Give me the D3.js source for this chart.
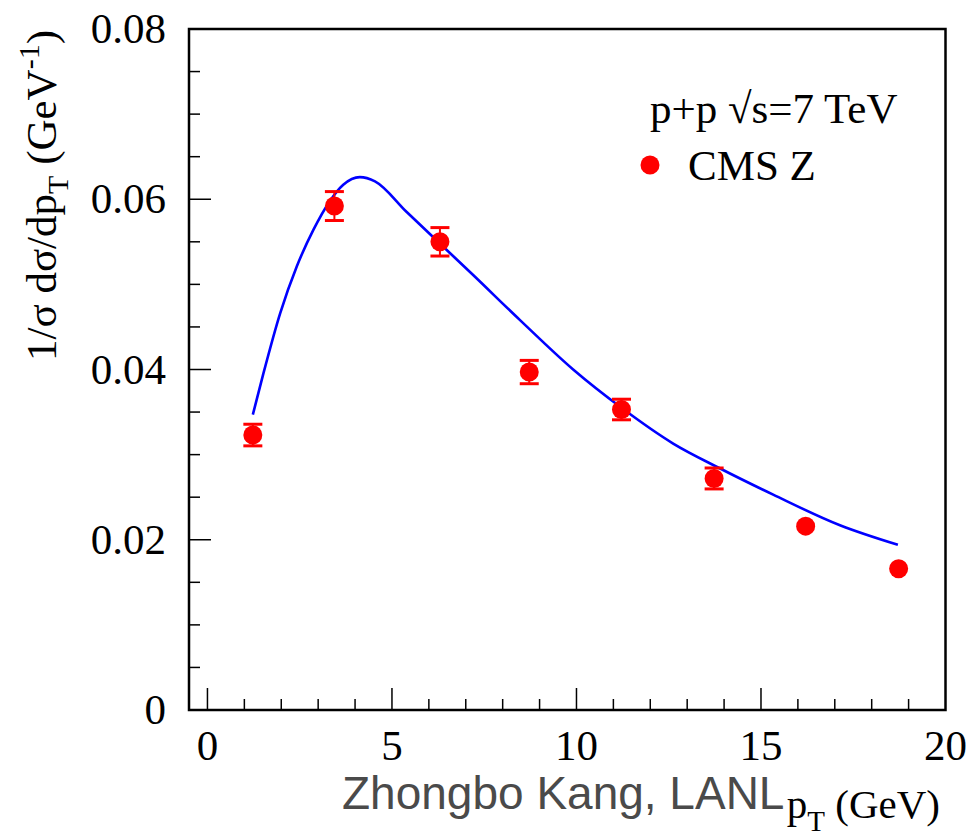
<!DOCTYPE html>
<html>
<head>
<meta charset="utf-8">
<script src="https://cdn.jsdelivr.net/npm/d3@7"></script>
<style>
  html, body { margin: 0; padding: 0; background: #fff; }
  svg { display: block; }
</style>
</head>
<body>
<svg id="chart" width="969" height="836"></svg>
<script>
// ---- data ----
const xTicks = [0, 5, 10, 15, 20];
const yTicks = [0, 0.02, 0.04, 0.06, 0.08];
const yTickLabels = ["0", "0.02", "0.04", "0.06", "0.08"];

const cmsPt  = [1.23, 3.44, 6.30, 8.72, 11.22, 13.73, 16.21, 18.73];
const cmsVal = [0.0323, 0.0592, 0.0550, 0.0397, 0.0353, 0.0272, 0.0216, 0.0166];
const cmsErr = [0.00127, 0.0017, 0.00167, 0.00137, 0.00121, 0.00123, 0.0007, 0.0007];

const theoryPt  = [1.23, 1.52, 1.97, 2.42, 2.87, 3.32, 3.68, 4.13, 4.54, 5.40, 6.30, 7.20, 8.47, 9.91, 11.22, 12.62, 13.88, 15.33, 17.14, 18.71];
const theoryVal = [0.0347, 0.0396, 0.0466, 0.0521, 0.0564, 0.0598, 0.0617, 0.0626, 0.0621, 0.0585, 0.0548, 0.0511, 0.0458, 0.0400, 0.0355, 0.0313, 0.0284, 0.0253, 0.0217, 0.0194];

// ---- layout ----
const L = 189, R = 945.5, T = 29, B = 710;
const svg = d3.select("#chart");
const x = d3.scaleLinear().domain([-0.5, 20]).range([L, R]);
const y = d3.scaleLinear().domain([0, 0.08]).range([B, T]);
const serif = "'Liberation Serif', 'Times New Roman', serif";
const fs = 43;

// minor ticks
const xMinor = d3.range(0, 20, 1).filter(v => v % 5 !== 0);
const yMinor = d3.range(0, 0.08, 0.005).map(v => +v.toFixed(4)).filter(v => Math.round(v * 1000) % 20 !== 0);

const g = svg.append("g");

// x ticks
g.selectAll("line.xmaj").data(xTicks.filter(v => v < 20)).join("line")
  .attr("x1", d => x(d)).attr("x2", d => x(d))
  .attr("y1", B).attr("y2", B - 22)
  .attr("stroke", "#000").attr("stroke-width", 1.5);
g.selectAll("line.xmin").data(xMinor).join("line")
  .attr("x1", d => x(d)).attr("x2", d => x(d))
  .attr("y1", B).attr("y2", B - 11)
  .attr("stroke", "#000").attr("stroke-width", 1.5);
// y ticks
g.selectAll("line.ymaj").data(yTicks.filter(v => v > 0 && v < 0.08)).join("line")
  .attr("x1", L).attr("x2", L + 22)
  .attr("y1", d => y(d)).attr("y2", d => y(d))
  .attr("stroke", "#000").attr("stroke-width", 1.5);
g.selectAll("line.ymin").data(yMinor).join("line")
  .attr("x1", L).attr("x2", L + 11)
  .attr("y1", d => y(d)).attr("y2", d => y(d))
  .attr("stroke", "#000").attr("stroke-width", 1.5);

// frame
g.append("rect").attr("x", L).attr("y", T).attr("width", R - L).attr("height", B - T)
  .attr("fill", "none").attr("stroke", "#000").attr("stroke-width", 2.5);

// tick labels
g.selectAll("text.xl").data(xTicks).join("text")
  .attr("x", d => x(d)).attr("y", 760)
  .attr("text-anchor", "middle")
  .attr("font-family", serif).attr("font-size", fs)
  .text(d => d);
g.selectAll("text.yl").data(yTicks).join("text")
  .attr("x", 166).attr("y", d => y(d) + 14)
  .attr("text-anchor", "end")
  .attr("font-family", serif).attr("font-size", fs)
  .text((d, i) => yTickLabels[i]);

// theory curve
const line = d3.line().x((d, i) => x(theoryPt[i])).y(d => y(d)).curve(d3.curveMonotoneX);
g.append("path").datum(theoryVal).attr("d", line)
  .attr("fill", "none").attr("stroke", "#0000ff").attr("stroke-width", 2.6);

// data points with error bars
const r = 9.5;
const pts = cmsPt.map((p, i) => ({ p, v: cmsVal[i], e: cmsErr[i] }));
const eb = g.append("g").attr("stroke", "#ff0000");
pts.forEach(d => {
  const cx = x(d.p), cy = y(d.v), hi = y(d.v + d.e), lo = y(d.v - d.e);
  if (cy - hi > r) {
    eb.append("line").attr("x1", cx).attr("x2", cx).attr("y1", hi).attr("y2", lo).attr("stroke-width", 2);
    [hi, lo].forEach(yy => eb.append("line").attr("x1", cx - 9.5).attr("x2", cx + 9.5)
      .attr("y1", yy).attr("y2", yy).attr("stroke-width", 3));
  }
});
g.selectAll("circle.pt").data(pts).join("circle")
  .attr("cx", d => x(d.p)).attr("cy", d => y(d.v)).attr("r", r)
  .attr("fill", "#ff0000");

// legend
svg.append("text").attr("x", 650).attr("y", 123)
  .attr("font-family", serif).attr("font-size", fs)
  .text("p+p \u221As=7 TeV");
svg.append("circle").attr("cx", 650).attr("cy", 165).attr("r", r).attr("fill", "#ff0000");
svg.append("text").attr("x", 688).attr("y", 180)
  .attr("font-family", serif).attr("font-size", fs)
  .text("CMS Z");

// watermark
svg.append("text").attr("x", 342).attr("y", 809)
  .attr("font-family", "'Liberation Sans', Arial, sans-serif").attr("font-size", 46)
  .attr("fill", "#4a4a4a")
  .text("Zhongbo Kang, LANL");

// x title
const xt = svg.append("text").attr("x", 940).attr("y", 818).attr("text-anchor", "end")
  .attr("font-family", serif).attr("font-size", 41);
xt.append("tspan").text("p");
xt.append("tspan").attr("dy", 13).attr("font-size", 29).text("T");
xt.append("tspan").attr("dy", -13).text(" (GeV)");

// y title
const yt = svg.append("text").attr("transform", "translate(56,30) rotate(-90)")
  .attr("text-anchor", "end")
  .attr("font-family", serif).attr("font-size", 43);
yt.append("tspan").text("1/\u03C3 d\u03C3/dp");
yt.append("tspan").attr("dy", 12).attr("font-size", 30).text("T");
yt.append("tspan").attr("dy", -12).text(" (GeV");
yt.append("tspan").attr("dy", -17).attr("font-size", 30).text("-1");
yt.append("tspan").attr("dy", 17).text(")");
</script>
</body>
</html>
